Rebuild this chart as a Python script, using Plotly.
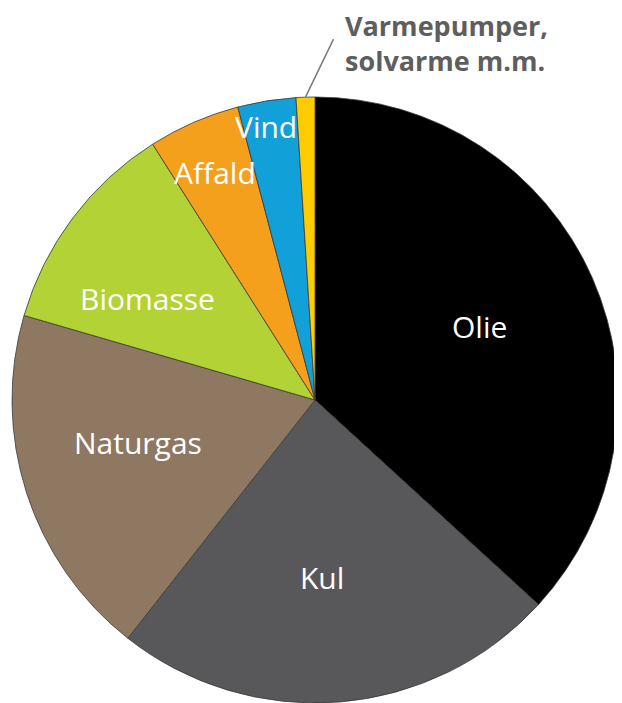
import math
import plotly.graph_objects as go

# ---- data ----
labels = ["Olie", "Kul", "Naturgas", "Biomasse", "Affald", "Vind", "Varmepumper, solvarme m.m."]
values = [36.8, 23.8, 18.9, 11.5, 4.9, 3.1, 1.0]
label_text = ["Olie", "Kul", "Naturgas", "Biomasse", "Affald", "Vind", None]
callout_text = "Varmepumper,<br>solvarme m.m."

# ---- style ----
colors = ["#000000", "#58585a", "#8f7862", "#b2d235", "#f5a01c", "#12a0d9", "#ffcc00"]
label_rfrac = [0.595, 0.585, 0.60, 0.646, 0.82, 0.918, None]
label_dang = [-0.4, 2.4, 4.2, -5.6, -0.1, -0.9, 0]

# the page body has an 8px default margin, so the figure is drawn 8px smaller
W, H = 614, 695
cx, cy, R = 307, 392, 303  # pixel centre (from figure top-left) and radius

fig = go.Figure(go.Pie(
    labels=labels, values=values, sort=False, direction="clockwise", rotation=0,
    marker=dict(colors=colors, line=dict(color="#3a3a3a", width=0.8)),
    textinfo="none", hoverinfo="label+percent", showlegend=False,
    domain=dict(x=[(cx - R) / W, (cx + R) / W], y=[max(0, (H - cy - R) / H), (H - cy + R) / H]),
))

total = sum(values)
cum = 0.0
annotations = []
shapes = []
for i, v in enumerate(values):
    a0 = cum / total * 360
    cum += v
    a1 = cum / total * 360
    mid = (a0 + a1) / 2
    if label_text[i]:
        ang = math.radians(mid + label_dang[i])
        px = cx + label_rfrac[i] * R * math.sin(ang)
        py = cy - label_rfrac[i] * R * math.cos(ang)
        annotations.append(dict(
            x=px / W, y=1 - py / H, xref="paper", yref="paper",
            text=label_text[i], showarrow=False, xanchor="center", yanchor="middle",
            font=dict(family="Open Sans", size=30, color="white")))
    else:
        ang = math.radians(mid)
        ex = cx + R * math.sin(ang)
        ey = cy - R * math.cos(ang)
        tx, ty = ex + 28, ey - 58
        shapes.append(dict(type="line", xref="paper", yref="paper",
                           x0=ex / W, y0=1 - ey / H, x1=tx / W, y1=1 - ty / H,
                           line=dict(color="#7a7a7a", width=1.5)))
        annotations.append(dict(
            x=(tx + 10) / W, y=1 - 35 / H, xref="paper", yref="paper",
            text=callout_text, showarrow=False, xanchor="left", yanchor="middle", align="left",
            font=dict(family="Open Sans", size=27, color="#5e5e5e", weight="bold")))

fig.update_layout(
    width=W, height=H, margin=dict(l=0, r=0, t=0, b=0),
    paper_bgcolor="white", plot_bgcolor="white",
    annotations=annotations, shapes=shapes,
)
fig.write_html("out.html")
